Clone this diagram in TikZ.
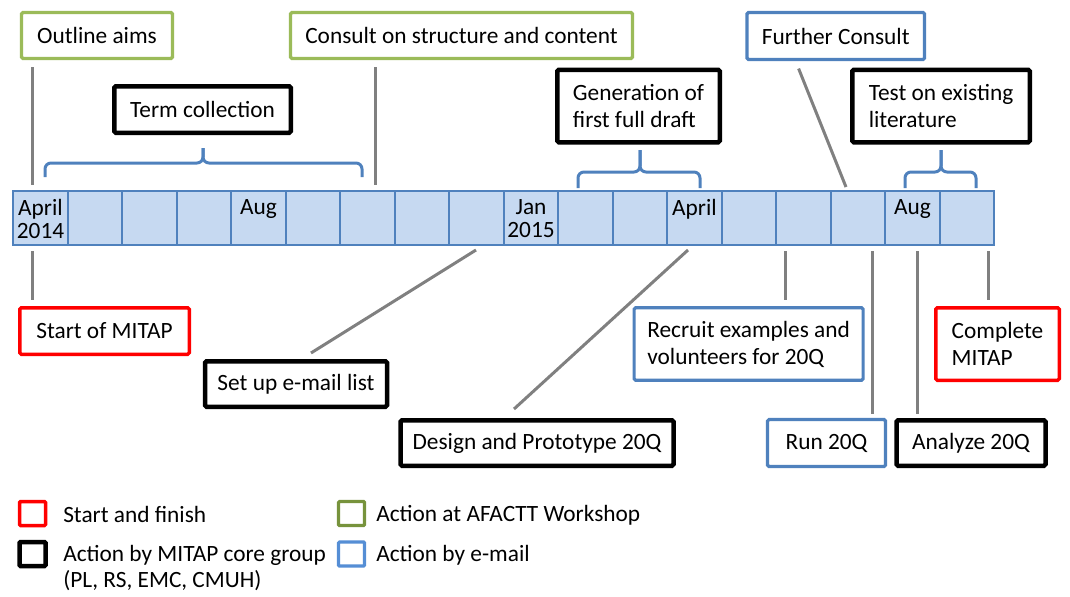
\documentclass[tikz,border=0pt]{standalone}
\usepackage{fontspec}
\setmainfont{Carlito}
\usetikzlibrary{calc}
\newdimen\px \px=0.75pt
\definecolor{cellfill}{HTML}{C6D9F1}
\definecolor{cellline}{HTML}{4F81BD}
\definecolor{boxgreen}{HTML}{9BBB59}
\definecolor{boxblue}{HTML}{4F81BD}
\definecolor{boxred}{HTML}{FF0000}
\definecolor{linegray}{HTML}{808080}
\definecolor{leggreen}{HTML}{77933C}
\definecolor{legblue}{HTML}{558ED5}
\newcommand\bxfont{\fontsize{17.5pt}{20.25pt}\selectfont}
\newcommand\cellfont{\fontsize{17.5pt}{17pt}\selectfont}
\newcommand\legfont{\fontsize{17.5pt}{19.5pt}\selectfont}
\tikzset{
  box/.style={draw, fill=white, rounded corners=1.5\px, inner sep=0pt, align=left, font=\bxfont},
  gbox/.style={box, draw=boxgreen, line width=3.2\px},
  bbox/.style={box, draw=boxblue, line width=3.2\px},
  kbox/.style={box, draw=black, line width=4.5\px},
  rbox/.style={box, draw=boxred, line width=3.5\px},
  conn/.style={draw=linegray, line width=3\px},
  brace/.style={draw=boxblue, line width=3\px, rounded corners=6\px},
  cell/.style={draw=cellline, fill=cellfill, line width=2\px, minimum width=54.5\px, minimum height=54\px, inner sep=0pt, outer sep=0pt},
  celltext/.style={font=\cellfont, align=center, anchor=north, inner sep=0pt},
  lsq/.style={draw, fill=white, rounded corners=1\px, minimum width=26\px, minimum height=24\px, inner sep=0pt},
  legtext/.style={font=\legfont, align=left, anchor=west, inner sep=0pt},
}
\begin{document}
\begin{tikzpicture}[x=0.75pt, y=-0.75pt]
\useasboundingbox (0,0) rectangle (1070,596);
% timeline cells
\foreach \i in {0,...,17} {
  \node[cell] (c\i) at ({13+54.5*\i+27.25},218) {};
}
\node[celltext] (m0) at (40.5,199.5) {April\\2014};
\node[celltext] (m4) at (258.5,199.5) {Aug};
\node[celltext] (m9) at (531,199.5) {Jan\\2015};
\node[celltext] (m12) at (694.5,199.5) {April};
\node[celltext] (m16) at (912.5,199.5) {Aug};

% boxes above
\node[gbox, minimum width=151\px, minimum height=46\px] (outline) at (97,35.5) {Outline aims};
\node[gbox, minimum width=342\px, minimum height=46\px] (consult) at (461.5,35.5) {Consult on structure and content};
\node[bbox, minimum width=177.5\px, minimum height=47\px] (further) at (835.75,36) {Further Consult};
\node[kbox, minimum width=176.5\px, minimum height=46.5\px] (term) at (202.5,109.5) {Term collection};
\node[kbox, minimum width=162.5\px, minimum height=72.5\px] (gen) at (638.5,106) {Generation of\\first full draft};
\node[kbox, minimum width=177.5\px, minimum height=72.5\px] (test) at (941,106) {Test on existing\\literature};

% boxes below
\node[rbox, minimum width=169.5\px, minimum height=46.5\px] (start) at (104.5,331) {Start of MITAP};
\node[kbox, minimum width=182\px, minimum height=45.5\px] (setup) at (296,384) {Set up e-mail list};
\node[kbox, minimum width=273\px, minimum height=45.5\px] (design) at (537,443) {Design and Prototype 20Q};
\node[bbox, minimum width=229\px, minimum height=72.5\px] (recruit) at (748.6,344) {Recruit examples and\\volunteers for 20Q};
\node[rbox, minimum width=123.5\px, minimum height=72.5\px] (complete) at (997.5,344) {Complete\\MITAP};
\node[bbox, minimum width=118\px, minimum height=47\px] (run) at (826.5,443) {Run 20Q};
\node[kbox, minimum width=149\px, minimum height=45.5\px] (analyze) at (971,443) {Analyze 20Q};

% braces
\draw[brace] (45,177) -- (45,163) -- (203,163) -- (203,148);
\draw[brace] (362,177) -- (362,163) -- (203,163) -- (203,148);
\draw[brace] (578,188) -- (578,172) -- (640,172) -- (640,150);
\draw[brace] (700,188) -- (700,172) -- (640,172) -- (640,150);
\draw[brace] (905,188) -- (905,172) -- (941,172) -- (941,150);
\draw[brace] (976,188) -- (976,172) -- (941,172) -- (941,150);

% connectors above
\draw[conn] ($(outline.south -| 32,0)+(0,7)$) -- ($(c0.north -| 32,0)+(0,-6)$);
\draw[conn] ($(consult.south -| 375,0)+(0,7)$) -- ($(c6.north -| 375,0)+(0,-6)$);
\draw[conn] ($(further.south -| 798.6,0)+(0,7.5)$) -- ($(c15.north -| 846,0)+(0,-4)$);
% connectors below
\draw[conn] ($(c0.south -| 32,0)+(0,6)$) -- ($(start.north -| 32,0)+(0,-6)$);
\draw[conn] ($(c8.south -| 476,0)+(0,5)$) -- ($(setup.north -| 311,0)+(0,-6)$);
\draw[conn] ($(c12.south -| 688,0)+(0,5)$) -- ($(design.north -| 514,0)+(0,-9)$);
\draw[conn] ($(c14.south -| 785.5,0)+(0,6)$) -- ($(recruit.north -| 785.5,0)+(0,-6)$);
\draw[conn] ($(c15.south -| 872.6,0)+(0,6)$) -- ($(run.north -| 872.6,0)+(0,-4)$);
\draw[conn] ($(c16.south -| 917,0)+(0,6)$) -- ($(analyze.north -| 917,0)+(0,-4)$);
\draw[conn] ($(c17.south -| 988,0)+(0,6)$) -- ($(complete.north -| 988,0)+(0,-6)$);

% legend
\node[lsq, draw=boxred, line width=3.5\px] (lg1) at (32.5,513.5) {};
\node[lsq, draw=black, line width=4.5\px] (lg2) at (32.5,554) {};
\node[lsq, draw=leggreen, line width=3.2\px] (lg3) at (351.5,513.5) {};
\node[lsq, draw=legblue, line width=3.2\px] (lg4) at (351.5,554) {};
\node[legtext] (lt1) at (63,514.5) {Start and finish};
\node[legtext] (lt2) at (63,568) {Action by MITAP core group\\(PL, RS, EMC, CMUH)};
\node[legtext] (lt3) at (376,515.5) {Action at AFACTT Workshop};
\node[legtext] (lt4) at (376,555.5) {Action by e-mail};
\end{tikzpicture}
\end{document}
